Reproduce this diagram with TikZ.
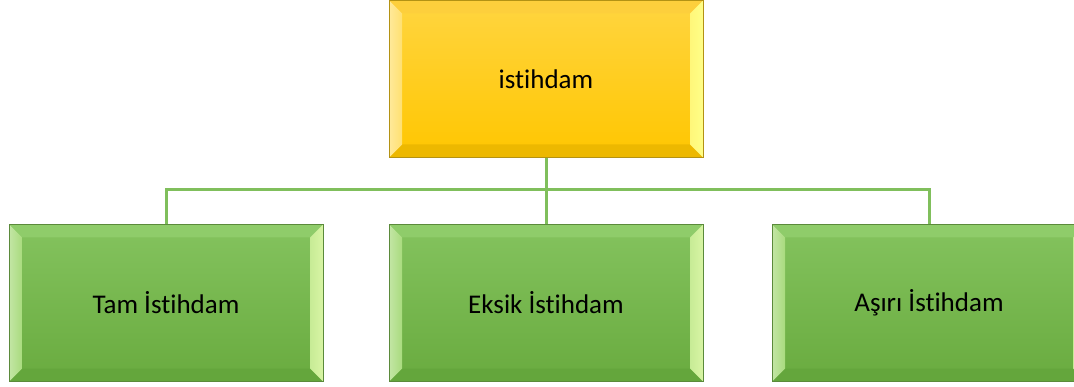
\documentclass[tikz,border=0pt]{standalone}
\usepackage{fontspec}
\setmainfont{Carlito}[Ligatures={NoCommon}]
\usetikzlibrary{calc}
\definecolor{gface1}{HTML}{84C35E}
\definecolor{gface2}{HTML}{69AB3F}
\definecolor{gleft}{HTML}{A9DB7E}
\definecolor{gright}{HTML}{D8F5A4}
\definecolor{gtop}{HTML}{8FCC6A}
\definecolor{gbot}{HTML}{64A63C}
\definecolor{gline}{HTML}{5B8A3B}
\definecolor{yface1}{HTML}{FFD540}
\definecolor{yface2}{HTML}{FFC600}
\definecolor{yleft}{HTML}{FFE070}
\definecolor{yright}{HTML}{FFFF88}
\definecolor{ytop}{HTML}{FDCF3C}
\definecolor{ybot}{HTML}{EDB800}
\definecolor{yline}{HTML}{B39214}
\definecolor{conncol}{HTML}{80BF5C}
\tikzset{
  x=1pt, y=1pt,
  bevelbox/.style n args={7}{
    rectangle, inner sep=0pt, minimum width=314pt, minimum height=157pt,
    draw=#7, line width=1pt, top color=#1, bottom color=#2,
    font=\fontsize{27}{31}\selectfont, text=black,
    path picture={
      \coordinate (nw) at (path picture bounding box.north west);
      \coordinate (ne) at (path picture bounding box.north east);
      \coordinate (sw) at (path picture bounding box.south west);
      \coordinate (se) at (path picture bounding box.south east);
      \fill[#5] (nw) -- (ne) -- ($(ne)+(-13,-13)$) -- ($(nw)+(13,-13)$) -- cycle;
      \fill[#6] (sw) -- (se) -- ($(se)+(-13,13)$) -- ($(sw)+(13,13)$) -- cycle;
      \shade[left color=#3!70!white, right color=#3] (nw) -- (sw) -- ($(sw)+(13,13)$) -- ($(nw)+(13,-13)$) -- cycle;
      \shade[left color=#4!80!#1, right color=#4] (ne) -- (se) -- ($(se)+(-13,13)$) -- ($(ne)+(-13,-13)$) -- cycle;
    }},
  ybox/.style={bevelbox={yface1}{yface2}{yleft}{yright}{ytop}{ybot}{yline}},
  gbox/.style={bevelbox={gface1}{gface2}{gleft}{gright}{gtop}{gbot}{gline}},
  conn/.style={draw=conncol, line width=3pt}
}
\begin{document}
\begin{tikzpicture}
\useasboundingbox (0,0) rectangle (1074,386);
\begin{scope}
\clip (0,0) rectangle (1074,386);
\node[ybox] (top) at (546,307) {istihdam};
\node[gbox] (l) at (166,83) {Tam İstihdam};
\node[gbox] (m) at (546,83) {Eksik İstihdam};
\node[gbox] (r) at (929,83) {Aşırı İstihdam};
\coordinate (bus) at (546,196);
\draw[conn] (top.south) -- (bus);
\draw[conn] (bus) -| (l.north);
\draw[conn] (bus) -| (r.north);
\draw[conn] (bus) -- (m.north);
\end{scope}
\end{tikzpicture}
\end{document}
